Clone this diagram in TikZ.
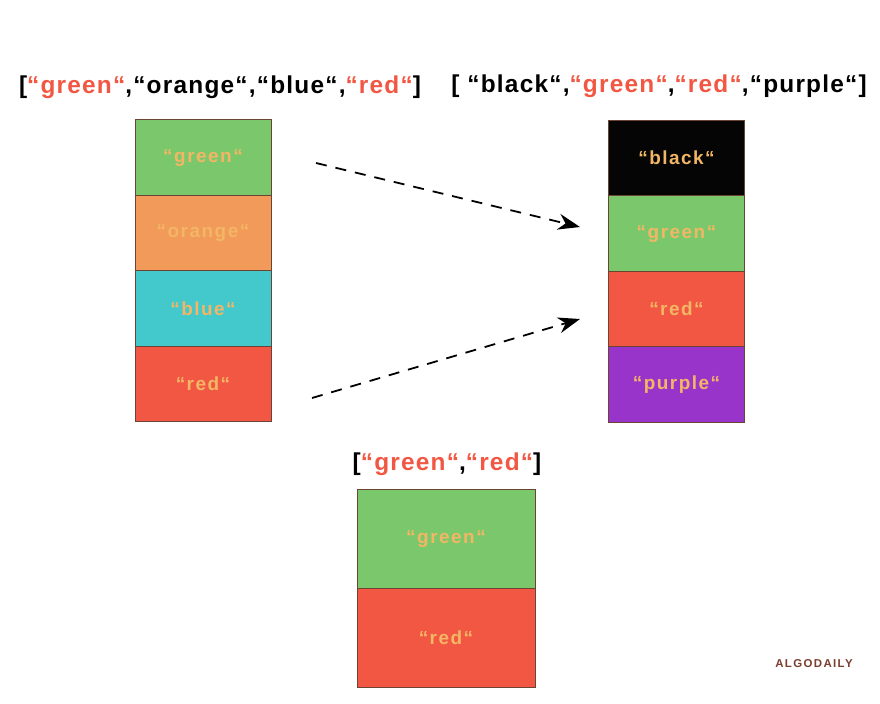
\documentclass[tikz,border=0pt]{standalone}
\usepackage{fontspec}
\setmainfont{Liberation Sans}
\newfontfamily\markfont[LetterSpace=12]{Liberation Sans}
\newfontfamily\titlefont[LetterSpace=5]{Liberation Sans}
\newfontfamily\cellfont[LetterSpace=8]{Liberation Sans}
\usetikzlibrary{positioning, arrows.meta, calc}
\definecolor{cellGreen}{HTML}{7BC86C}
\definecolor{cellOrange}{HTML}{F29A5A}
\definecolor{cellBlue}{HTML}{43C9CC}
\definecolor{cellRed}{HTML}{F25743}
\definecolor{cellBlack}{HTML}{050505}
\definecolor{cellPurple}{HTML}{9934CB}
\definecolor{cellEdge}{HTML}{6B4434}
\definecolor{labelText}{HTML}{F2B665}
\definecolor{titleRed}{HTML}{F25743}
\definecolor{markBrown}{HTML}{7A3F2F}

\begin{document}
\begin{tikzpicture}[x=1bp, y=-1bp,
    cell/.style={rectangle, draw=cellEdge, line width=0.6pt, minimum width=136bp,
                 minimum height=75.5bp, inner sep=0pt, text=labelText,
                 font=\cellfont\fontsize{19}{19}\selectfont\bfseries},
    wide/.style={cell, minimum width=178bp, minimum height=99bp},
    title/.style={inner sep=0pt, font=\titlefont\fontsize{24.5}{24.5}\selectfont\bfseries},
    move/.style={draw=black, line width=1.8pt, dash pattern=on 11bp off 9bp,
                 -{Stealth[length=22bp, width=16bp]}}]
  \useasboundingbox (0,0) rectangle (880,704);

  % first list
  \node[title] (ltitle) at (220,87)
    {[{\color{titleRed}“green“},“orange“,“blue“,{\color{titleRed}“red“}]};
  \foreach \c/\t [count=\i from 0] in {cellGreen/green, cellOrange/orange,
                                        cellBlue/blue, cellRed/red}
    { \node[cell, fill=\c] (l\i) at (203, 157.5+\i*75.5) {“\t“}; }

  % second list
  \node[title] (rtitle) at (659,86)
    {[ “black“,{\color{titleRed}“green“},{\color{titleRed}“red“},“purple“]};
  \foreach \c/\t [count=\i from 0] in {cellBlack/black, cellGreen/green,
                                        cellRed/red, cellPurple/purple}
    { \node[cell, fill=\c] (r\i) at (676.5, 158+\i*75.5) {“\t“}; }

  % common items
  \node[title] (ctitle) at (447,464)
    {[{\color{titleRed}“green“},{\color{titleRed}“red“}]};
  \node[wide, fill=cellGreen] (c0) at (446,538.5) {“green“};
  \node[wide, fill=cellRed, below=0pt of c0] (c1) {“red“};

  \coordinate (a1) at (316,163);
  \coordinate (b1) at (580,227);
  \coordinate (a2) at (312,398);
  \coordinate (b2) at (580,319);
  \draw[move] (a1) -- (b1);
  \draw[move] (a2) -- (b2);

  \node[text=markBrown, font=\markfont\fontsize{11.5}{11.5}\selectfont\bfseries]
    (mark) at (814,664) {ALGODAILY};
\end{tikzpicture}
\end{document}
